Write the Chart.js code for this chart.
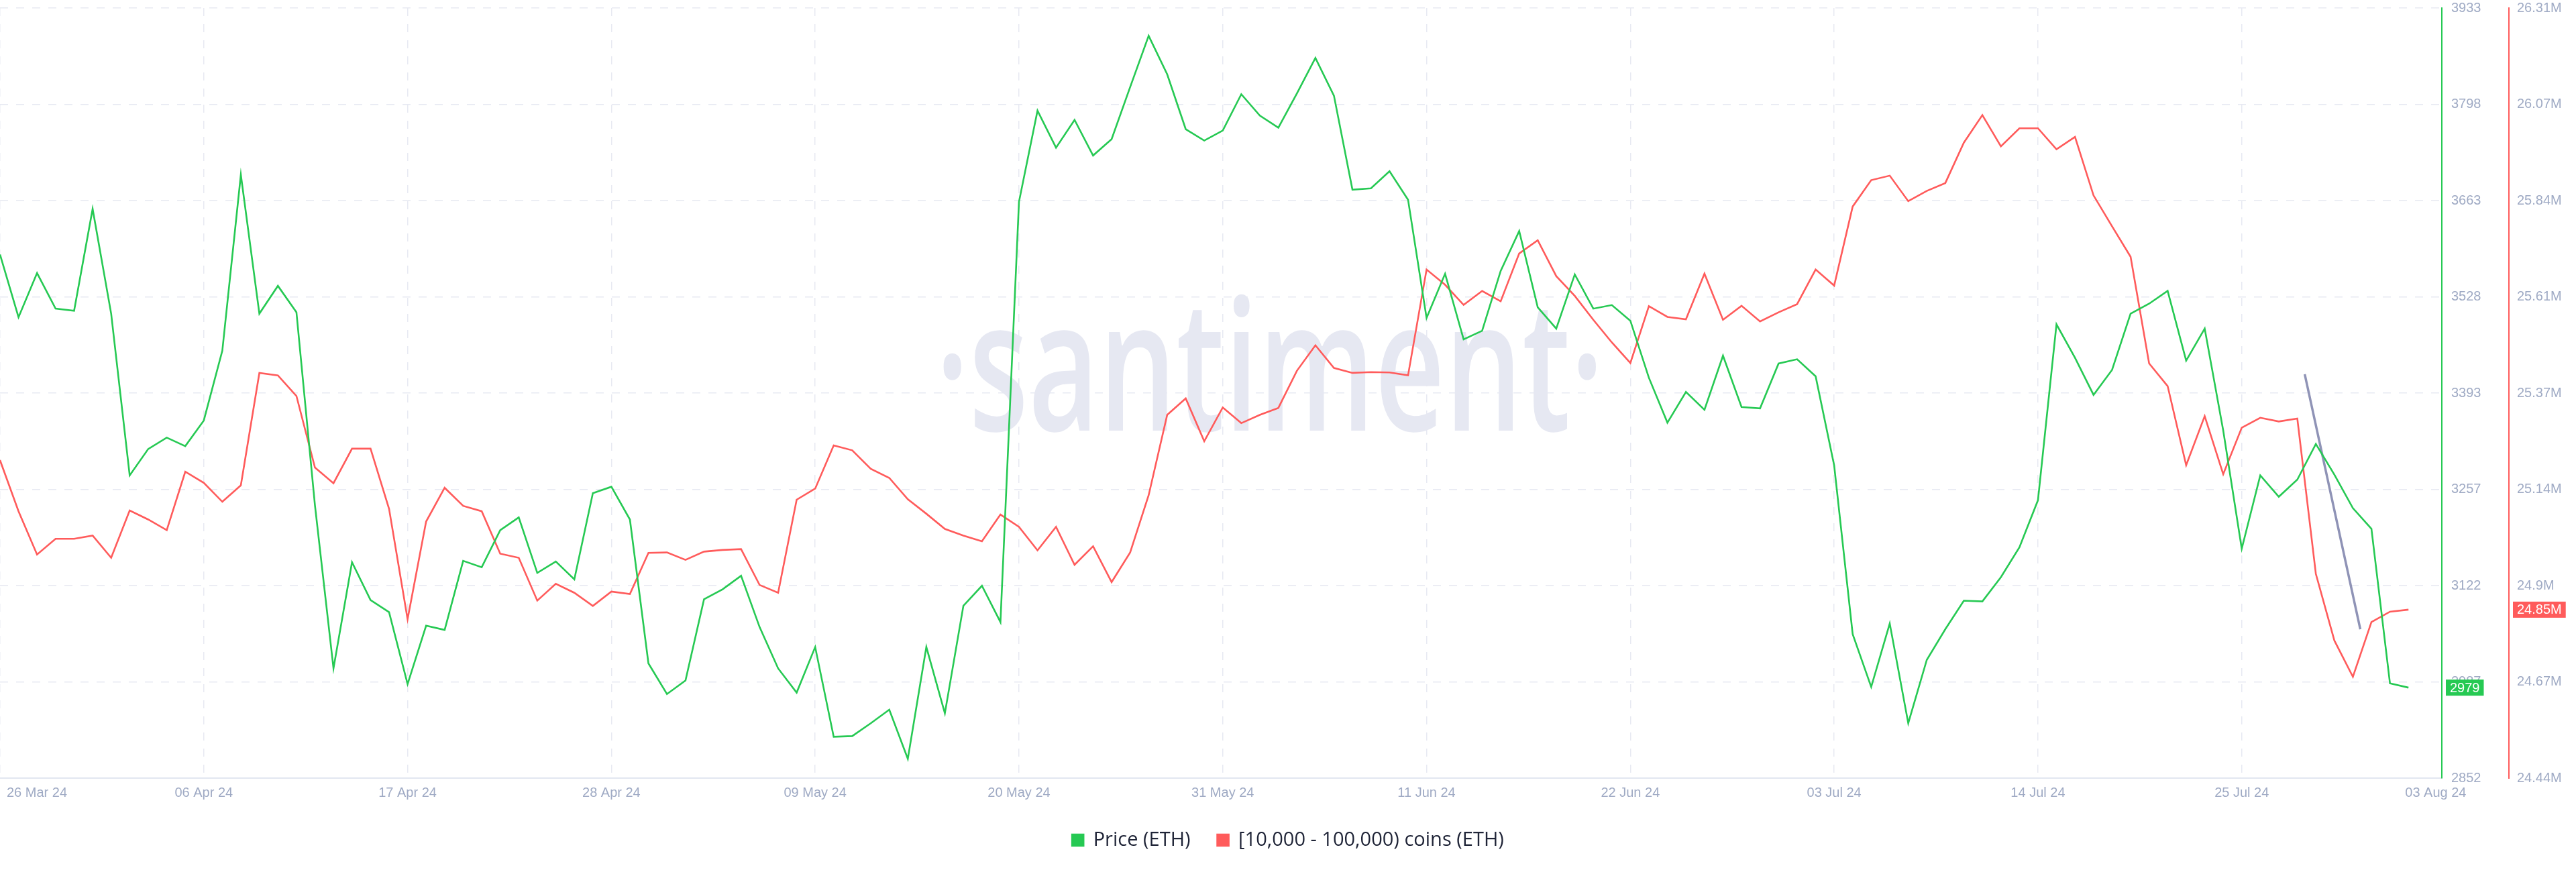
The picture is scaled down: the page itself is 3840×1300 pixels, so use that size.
<!DOCTYPE html>
<html>
<head>
<meta charset="utf-8">
<script src="https://cdn.jsdelivr.net/npm/chart.js@4.4.1/dist/chart.umd.min.js"></script>
<style>
  html, body { margin: 0; padding: 0; background: #fff; }
  #wrap { width: 3840px; height: 1300px; }
</style>
</head>
<body>
<div id="wrap"><canvas id="chart" width="3840" height="1300"></canvas></div>
<script>
// daily values, 26 Mar 24 -> 03 Aug 24 (index = day)
const priceEth = [
  3587, 3499, 3561, 3511, 3508, 3651, 3504, 3277, 3314, 3330,
  3318, 3354, 3452, 3699, 3504, 3543, 3506, 3235, 3006, 3155,
  3102, 3085, 2984, 3066, 3060, 3157, 3148, 3200, 3218, 3140,
  3156, 3131, 3252, 3261, 3215, 3013, 2970, 2989, 3103, 3117,
  3136, 3064, 3006, 2972, 3036, 2910, 2911, 2929, 2948, 2879,
  3036, 2943, 3094, 3122, 3071, 3661, 3789, 3737, 3776, 3726,
  3749, 3822, 3894, 3840, 3763, 3747, 3761, 3812, 3782, 3765,
  3813, 3863, 3810, 3678, 3680, 3704, 3664, 3498, 3560, 3468,
  3480, 3564, 3620, 3513, 3483, 3559, 3511, 3516, 3494, 3414,
  3351, 3394, 3369, 3445, 3373, 3371, 3434, 3440, 3416, 3291,
  3054, 2980, 3069, 2929, 3018, 3061, 3101, 3100, 3134, 3176,
  3242, 3489, 3442, 3390, 3425, 3504, 3518, 3536, 3438, 3483,
  3340, 3174, 3277, 3247, 3271, 3321, 3278, 3231, 3202, 2985, 2979
];
// [10,000 - 100,000) coins holders balance, millions ETH
const whaleCoins = [
  25.212, 25.088, 24.983, 25.021, 25.021, 25.029, 24.975, 25.090, 25.068, 25.042,
  25.184, 25.157, 25.111, 25.151, 25.424, 25.418, 25.368, 25.194, 25.156, 25.240,
  25.240, 25.094, 24.826, 25.063, 25.145, 25.101, 25.088, 24.985, 24.975, 24.871,
  24.912, 24.890, 24.858, 24.893, 24.887, 24.987, 24.988, 24.970, 24.990, 24.994,
  24.996, 24.909, 24.890, 25.116, 25.143, 25.248, 25.236, 25.191, 25.169, 25.117,
  25.082, 25.045, 25.029, 25.015, 25.080, 25.050, 24.993, 25.050, 24.958, 25.003,
  24.916, 24.988, 25.127, 25.322, 25.362, 25.258, 25.340, 25.302, 25.322, 25.339,
  25.429, 25.491, 25.436, 25.424, 25.426, 25.425, 25.418, 25.675, 25.638, 25.589,
  25.623, 25.598, 25.714, 25.746, 25.659, 25.611, 25.553, 25.498, 25.448, 25.586,
  25.560, 25.554, 25.665, 25.553, 25.587, 25.549, 25.571, 25.591, 25.675, 25.636,
  25.828, 25.892, 25.903, 25.841, 25.866, 25.885, 25.983, 26.050, 25.974, 26.018,
  26.018, 25.967, 25.997, 25.855, 25.780, 25.706, 25.447, 25.392, 25.200, 25.319,
  25.178, 25.291, 25.315, 25.306, 25.313, 24.936, 24.774, 24.686, 24.819, 24.844, 24.849
];
const tickDays   = [0, 11, 22, 33, 44, 55, 66, 77, 88, 99, 110, 121, 130];
const tickLabels = ['26 Mar 24', '06 Apr 24', '17 Apr 24', '28 Apr 24', '09 May 24', '20 May 24',
  '31 May 24', '11 Jun 24', '22 Jun 24', '03 Jul 24', '14 Jul 24', '25 Jul 24', '03 Aug 24'];
const priceTicks = ['2852', '2987', '3122', '3257', '3393', '3528', '3663', '3798', '3933'];
const coinTicks  = ['24.44M', '24.67M', '24.9M', '25.14M', '25.37M', '25.61M', '25.84M', '26.07M', '26.31M'];
// hand-drawn trend line (price scale)
const trendDays  = [124.4, 127.4];
const trendPrice = [3419, 3061];

const GREEN = '#26c953', RED = '#ff5b5b', AXIS = '#9faac4', GRID = '#e7e9f2';
const TICK_FONT = '"Liberation Sans", Arial, sans-serif';

function evenTicks(min, max, n) {
  const out = [];
  for (let i = 0; i < n; i++) out.push({ value: min + i * (max - min) / (n - 1) });
  return out;
}

// no extra label padding on the y scales, the chart keeps its own top margin
const noPad = s => { s.width = 100; s.paddingTop = 0; s.paddingBottom = 0; };

// faint watermark behind the lines
const watermark = {
  id: 'watermark',
  beforeDatasetsDraw(chart) {
    const { ctx, chartArea: a } = chart;
    ctx.save();
    ctx.font = '600 272px "Open Sans"';
    const text = '·santiment·';
    const w = ctx.measureText(text).width;
    ctx.translate(a.left + (a.right - a.left) * 0.52, a.top + 630);
    ctx.scale(996 / w, 1);
    ctx.fillStyle = '#e6e8f2';
    ctx.textAlign = 'center';
    ctx.textBaseline = 'alphabetic';
    ctx.fillText(text, 0, 0);
    ctx.restore();
  }
};

// date labels under the axis
const dateLabels = {
  id: 'dateLabels',
  afterDraw(chart) {
    const { ctx, scales: { x }, chartArea } = chart;
    ctx.save();
    ctx.font = '20px ' + TICK_FONT;
    ctx.fillStyle = AXIS;
    ctx.textBaseline = 'middle';
    tickDays.forEach((d, i) => {
      let px = x.getPixelForValue(d);
      if (i === 0) { ctx.textAlign = 'left'; px += 10; }
      else if (i === tickDays.length - 1) { ctx.textAlign = 'left'; px -= 5; }
      else ctx.textAlign = 'center';
      ctx.fillText(tickLabels[i], px, chartArea.bottom + 22);
    });
    ctx.restore();
  }
};

// last-value tags on the right axes
const lastTags = {
  id: 'lastTags',
  afterDraw(chart) {
    const { ctx, scales } = chart;
    const tag = (scale, val, text, bg) => {
      const y = scale.getPixelForValue(val);
      ctx.font = '20px ' + TICK_FONT;
      const w = ctx.measureText(text).width + 12;
      ctx.fillStyle = bg;
      ctx.fillRect(scale.left + 6, y - 12, w, 24);
      ctx.fillStyle = '#fff';
      ctx.textAlign = 'left';
      ctx.textBaseline = 'middle';
      ctx.fillText(text, scale.left + 12, y + 1);
    };
    ctx.save();
    tag(scales.yPrice, priceEth[priceEth.length - 1], String(priceEth[priceEth.length - 1]), GREEN);
    tag(scales.yCoins, whaleCoins[whaleCoins.length - 1], whaleCoins[whaleCoins.length - 1].toFixed(2) + 'M', RED);
    ctx.restore();
  }
};

const ctx = document.getElementById('chart').getContext('2d');
new Chart(ctx, {
  type: 'line',
  data: {
    datasets: [
      { label: 'Price (ETH)', data: priceEth.map((v, i) => ({ x: i, y: v })),
        borderColor: GREEN, backgroundColor: GREEN, borderWidth: 2.6, pointRadius: 0, tension: 0, yAxisID: 'yPrice' },
      { label: '[10,000 - 100,000) coins (ETH)', data: whaleCoins.map((v, i) => ({ x: i, y: v })),
        borderColor: RED, backgroundColor: RED, borderWidth: 2.6, pointRadius: 0, tension: 0, yAxisID: 'yCoins' },
      { label: 'trend', data: trendDays.map((d, i) => ({ x: d, y: trendPrice[i] })),
        borderColor: '#8f93b6', borderWidth: 3.5, pointRadius: 0, yAxisID: 'yPrice' }
    ]
  },
  options: {
    responsive: false,
    animation: false,
    layout: { padding: { left: 0, right: 0, top: 12, bottom: 23 } },
    plugins: {
      tooltip: { enabled: false },
      legend: {
        position: 'bottom',
        labels: {
          filter: item => item.datasetIndex < 2,
          boxWidth: 17, boxHeight: 17, padding: 40,
          color: '#1f2437',
          font: { family: '"Open Sans"', size: 29 }
        }
      }
    },
    scales: {
      x: {
        type: 'linear', min: 0, max: 131.8,
        afterBuildTicks: s => { s.ticks = tickDays.slice(0, -1).map(v => ({ value: v })); },
        afterFit: s => { s.height = 38; },
        ticks: { display: false },
        grid: { color: GRID, lineWidth: 1.5, drawTicks: false },
        border: { display: true, color: '#e2e6f0', width: 2, dash: [12, 12] }
      },
      yPrice: {
        position: 'right', min: 2852, max: 3933,
        afterBuildTicks: s => { s.ticks = evenTicks(2852, 3933, priceTicks.length); },
        afterFit: noPad,
        ticks: { color: AXIS, font: { family: TICK_FONT, size: 20 }, padding: 14, autoSkip: false,
                 callback: (v, i) => priceTicks[i] },
        grid: { color: GRID, lineWidth: 1.5, drawTicks: false },
        border: { color: GREEN, width: 2, dash: [12, 12] }
      },
      yCoins: {
        position: 'right', min: 24.44, max: 26.31,
        afterBuildTicks: s => { s.ticks = evenTicks(24.44, 26.31, coinTicks.length); },
        afterFit: noPad,
        ticks: { color: AXIS, font: { family: TICK_FONT, size: 20 }, padding: 12, autoSkip: false,
                 callback: (v, i) => coinTicks[i] },
        grid: { display: false, drawTicks: false },
        border: { color: RED, width: 2 }
      }
    }
  },
  plugins: [watermark, dateLabels, lastTags]
});
</script>
</body>
</html>
